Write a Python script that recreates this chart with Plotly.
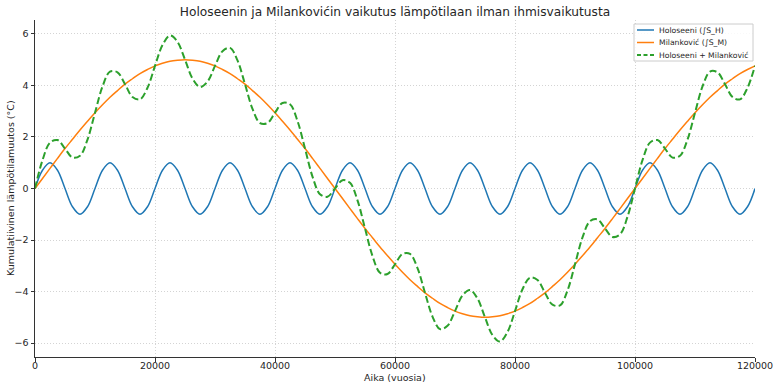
import plotly.graph_objects as go

# Time axis (years), sampled every 1250 years
years = [k * 1250 for k in range(97)]

holoseeni = [0, 0.71, 1, 0.71, 0, -0.71, -1, -0.71] * 12 + [0]

milankovic = [
    0, 0.39, 0.78, 1.17, 1.55, 1.91, 2.27, 2.61,
    2.94, 3.25, 3.54, 3.80, 4.05, 4.26, 4.46, 4.62,
    4.76, 4.86, 4.94, 4.98, 5.00, 4.98, 4.94, 4.86,
    4.76, 4.62, 4.46, 4.26, 4.05, 3.80, 3.54, 3.25,
    2.94, 2.61, 2.27, 1.91, 1.55, 1.17, 0.78, 0.39,
    0, -0.39, -0.78, -1.17, -1.55, -1.91, -2.27, -2.61,
    -2.94, -3.25, -3.54, -3.80, -4.05, -4.26, -4.46, -4.62,
    -4.76, -4.86, -4.94, -4.98, -5.00, -4.98, -4.94, -4.86,
    -4.76, -4.62, -4.46, -4.26, -4.05, -3.80, -3.54, -3.25,
    -2.94, -2.61, -2.27, -1.91, -1.55, -1.17, -0.78, -0.39,
    0, 0.39, 0.78, 1.17, 1.55, 1.91, 2.27, 2.61,
    2.94, 3.25, 3.54, 3.80, 4.05, 4.26, 4.46, 4.62,
    4.76,
]

yhteensa = [
    0, 1.10, 1.78, 1.88, 1.55, 1.20, 1.27, 1.90,
    2.94, 3.96, 4.54, 4.51, 4.05, 3.55, 3.46, 3.91,
    4.76, 5.57, 5.94, 5.69, 5.00, 4.27, 3.94, 4.15,
    4.76, 5.33, 5.46, 4.97, 4.05, 3.09, 2.54, 2.54,
    2.94, 3.32, 3.27, 2.62, 1.55, 0.46, -0.22, -0.32,
    0, 0.32, 0.22, -0.46, -1.55, -2.62, -3.27, -3.32,
    -2.94, -2.54, -2.54, -3.09, -4.05, -4.97, -5.46, -5.33,
    -4.76, -4.15, -3.94, -4.27, -5.00, -5.69, -5.94, -5.57,
    -4.76, -3.91, -3.46, -3.55, -4.05, -4.51, -4.54, -3.96,
    -2.94, -1.90, -1.27, -1.20, -1.55, -1.88, -1.78, -1.10,
    0, 1.10, 1.78, 1.88, 1.55, 1.20, 1.27, 1.90,
    2.94, 3.96, 4.54, 4.51, 4.05, 3.55, 3.46, 3.91,
    4.76,
]

series_names = ["Holoseeni (∫S_H)", "Milanković (∫S_M)", "Holoseeni + Milanković"]
x_ticks = [0, 20000, 40000, 60000, 80000, 100000, 120000]
y_ticks = [-6, -4, -2, 0, 2, 4, 6]

FONT = "DejaVu Sans"
TXT = "#262626"
colors = ["#1f77b4", "#ff7f0e", "#2ca02c"]
dashes = ["solid", "solid", "7px,3.2px"]
widths = [1.5, 1.5, 2.0]

fig = go.Figure()
for ys, name, c, d, w in zip([holoseeni, milankovic, yhteensa], series_names, colors, dashes, widths):
    fig.add_trace(go.Scatter(x=years, y=ys, mode="lines", name=name, showlegend=False,
                             line=dict(color=c, width=w, dash=d, shape="spline", smoothing=1)))

# Plot area in pixels: x 35..755, y 20..357
L, R, T, B = 35, 755, 20, 357
def px(x):
    return (x - L) / (R - L)
def py(y):
    return (B - y) / (B - T)

shapes = []
annotations = []
# legend box (drawn manually to match compact matplotlib legend)
shapes.append(dict(type="rect", xref="paper", yref="paper", x0=px(634), x1=px(753), y0=py(61), y1=py(24),
                   fillcolor="rgba(255,255,255,0.85)", line=dict(color="#cccccc", width=1), layer="above"))
rows = [30, 42.5, 55]
for name, c, d, w, ry in zip(series_names, colors, dashes, widths, rows):
    shapes.append(dict(type="line", xref="paper", yref="paper", x0=px(637), x1=px(654), y0=py(ry), y1=py(ry),
                       line=dict(color=c, width=w, dash=("4px,2.5px" if d != "solid" else "solid")), layer="above"))
    annotations.append(dict(text=name, xref="paper", yref="paper", x=px(657), y=py(ry), xanchor="left",
                            yanchor="middle", showarrow=False, font=dict(size=7.7, family=FONT, color=TXT)))
# axis titles
annotations.append(dict(text="Aika (vuosia)", xref="paper", yref="paper", x=px(395), y=py(377),
                        xanchor="center", yanchor="middle", showarrow=False,
                        font=dict(size=9.5, family=FONT, color=TXT)))
annotations.append(dict(text="Kumulatiivinen lämpötilamuutos (°C)", xref="paper", yref="paper",
                        x=px(10), y=py(188), xanchor="center", yanchor="middle", textangle=-90,
                        showarrow=False, font=dict(size=9.5, family=FONT, color=TXT)))

fig.update_layout(
    width=780, height=387,
    margin=dict(l=L, r=780 - R, t=T, b=387 - B, autoexpand=False),
    paper_bgcolor="white", plot_bgcolor="white",
    font=dict(family=FONT, size=9.5, color=TXT),
    title=dict(text="Holoseenin ja Milankovićin vaikutus lämpötilaan ilman ihmisvaikutusta",
               x=0.5, xref="paper", xanchor="center", y=1 - 12 / 387, yanchor="middle",
               font=dict(size=12.2, family=FONT, color=TXT)),
    showlegend=False,
    shapes=shapes, annotations=annotations,
)
fig.update_xaxes(
    range=[0, 120000], tickvals=x_ticks, ticktext=[str(v) for v in x_ticks],
    showgrid=True, gridcolor="#d4d4d4", griddash="1px,2px", gridwidth=0.8,
    showline=True, linecolor="#333333", linewidth=1,
    ticks="outside", ticklen=3.5, tickcolor="#333333", tickwidth=0.8,
    zeroline=False, tickfont=dict(size=9.5, color=TXT), automargin=False,
    ticklabelstandoff=-4,
)
fig.update_yaxes(
    range=[-6.54, 6.54], tickvals=y_ticks,
    ticktext=[("−" if v < 0 else "") + str(abs(v)) for v in y_ticks],
    showgrid=True, gridcolor="#d4d4d4", griddash="1px,2px", gridwidth=0.8,
    showline=True, linecolor="#333333", linewidth=1,
    ticks="outside", ticklen=3.5, tickcolor="#333333", tickwidth=0.8,
    zeroline=False, tickfont=dict(size=9.5, color=TXT), automargin=False,
)

fig.write_html("out.html", config={"displayModeBar": False},
               post_script="document.body.style.margin='0';document.body.style.padding='0';")
